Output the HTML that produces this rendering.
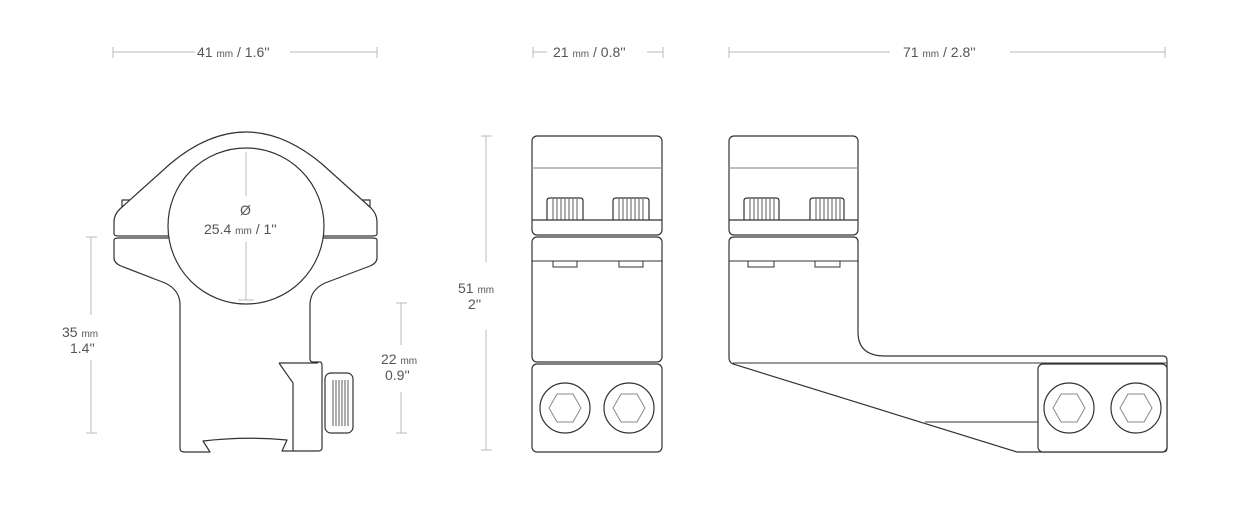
<!DOCTYPE html>
<html><head><meta charset="utf-8"><style>
html,body{margin:0;padding:0;background:#fff;width:1247px;height:522px;overflow:hidden}
text{font-family:"Liberation Sans",sans-serif;fill:#555;font-size:14px}
.s{font-size:10px}
</style></head><body>
<svg width="1247" height="522" viewBox="0 0 1247 522" xmlns="http://www.w3.org/2000/svg">
<g stroke="#bbb" stroke-width="1" fill="none">
<path d="M113,47V58M113,52H195M290,52H377M377,47V58"/>
<path d="M533,47V58M533,52H547M647,52H663M663,47V58"/>
<path d="M729,47V58M729,52H890M1010,52H1165M1165,47V58"/>
<path d="M86,237H97M91,237V315M91,360V433M86,433H97"/>
<path d="M396,303H407M401,303V345M401,392V433M396,433H407"/>
<path d="M481,136H492M486,136V262M486,330V450M481,450H492"/>
</g>
<text x="197" y="57">41 <tspan class="s">mm</tspan> / 1.6''</text>
<text x="553" y="57">21 <tspan class="s">mm</tspan> / 0.8''</text>
<text x="903" y="57">71 <tspan class="s">mm</tspan> / 2.8''</text>
<text x="62" y="337">35 <tspan class="s">mm</tspan></text><text x="70" y="353">1.4''</text>
<text x="381" y="364">22 <tspan class="s">mm</tspan></text><text x="385" y="380">0.9''</text>
<text x="458" y="293">51 <tspan class="s">mm</tspan></text><text x="468" y="309">2''</text>
<g stroke="#333" stroke-width="1.2" fill="#fff" stroke-linejoin="round">
<path d="M122,212V200H132L140,208ZM370,212V200H360L352,208Z"/>
<path d="M114,234V222Q114,214 121,208L170,164Q246,100 322,164L371,208Q377,214 377,222V234Q377,236 372,236H327L165,236H119Q114,236 114,234Z"/>
<path d="M114,240Q114,238 119,238H372Q377,238 377,240V258Q377,263 370,266L325,283Q310,290 310,305V359Q310,362 313,362H320Q322,362 322,366V448Q322,451 318,451H300V451H282L287,440Q245,436 203,441L210,452H184Q180,452 180,448V305Q180,290 165,283L121,266Q114,263 114,258Z"/>
<path d="M279,363L293,383V451M279,363H318" fill="none"/>
<circle cx="246" cy="226" r="78"/>
<path d="M246,152V196M246,242V300M238,300H254" stroke="#bbb" stroke-width="1"/>
<rect x="325" y="373" width="28" height="60" rx="6"/>
<path d="M333,380V426M336,380V426M339,380V426M342,380V426M345,380V426M348,380V426" stroke-width="0.8"/>
</g>
<text x="240" y="215">Ø</text>
<text x="204" y="234">25.4 <tspan class="s">mm</tspan> / 1''</text>
<g stroke="#333" stroke-width="1.2" fill="#fff">
<rect x="532" y="136" width="130" height="99" rx="5"/>
<path d="M532,168H662" stroke="#999"/>
<path d="M547,220V201Q547,198 550,198H580Q583,198 583,201V220M613,220V201Q613,198 616,198H646Q649,198 649,201V220"/>
<path d="M553,199V220M557,199V220M561,199V220M565,199V220M569,199V220M573,199V220M577,199V220M619,199V220M623,199V220M627,199V220M631,199V220M635,199V220M639,199V220M643,199V220" stroke-width="0.8"/>
<path d="M532,220H662"/>
<rect x="532" y="237" width="130" height="125" rx="5"/>
<path d="M532,261H662M553,261V267H577V261M619,261V267H643V261" stroke-width="1"/>
<rect x="532" y="364" width="130" height="88" rx="5"/>
<circle cx="565" cy="408" r="25"/><circle cx="629" cy="408" r="25"/>
<path d="M557,394H573L581,408L573,422H557L549,408ZM621,394H637L645,408L637,422H621L613,408Z" stroke="#888" stroke-width="1"/>
<rect x="729" y="136" width="129" height="99" rx="5"/>
<path d="M729,168H858" stroke="#999"/>
<path d="M744,220V201Q744,198 747,198H776Q779,198 779,201V220M810,220V201Q810,198 813,198H841Q844,198 844,201V220"/>
<path d="M750,199V220M754,199V220M758,199V220M762,199V220M766,199V220M770,199V220M774,199V220M816,199V220M820,199V220M824,199V220M828,199V220M832,199V220M836,199V220M840,199V220" stroke-width="0.8"/>
<path d="M729,220H858"/>
<path d="M734,237H853Q858,237 858,242V332Q858,356 885,356H1163Q1167,356 1167,360V448Q1167,452 1163,452H1017L733,364Q729,362 729,358V242Q729,237 734,237Z"/>
<path d="M729,261H858M748,261V267H774V261M815,261V267H840V261M733,363H1167M925,422H1038" stroke-width="1" fill="none"/>
<rect x="1038" y="364" width="129" height="88" rx="5"/>
<circle cx="1069" cy="408" r="25"/><circle cx="1136" cy="408" r="25"/>
<path d="M1061,394H1077L1085,408L1077,422H1061L1053,408ZM1128,394H1144L1152,408L1144,422H1128L1120,408Z" stroke="#888" stroke-width="1"/>
</g>
</svg>
</body></html>
